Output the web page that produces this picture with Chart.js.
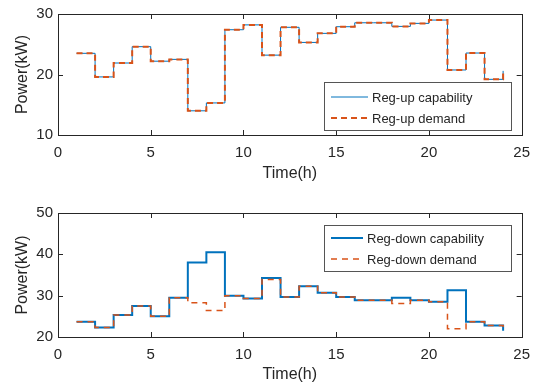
<!DOCTYPE html>
<html>
<head>
<meta charset="utf-8">
<script src="https://cdn.jsdelivr.net/npm/chart.js@4.4.1/dist/chart.umd.min.js"></script>
<style>
    body { margin: 0; background: #fff; }
    .plot { position: absolute; left: 0; width: 539px; }
</style>
</head>
<body>
<div class="plot" style="top:0;height:190px"><canvas id="chart"></canvas></div>
<div class="plot" style="top:190px;height:193px"><canvas id="chart2"></canvas></div>
<script>
const hours = [1, 2, 3, 4, 5, 6, 7, 8, 9, 10, 11, 12, 13, 14, 15, 16, 17, 18, 19, 20, 21, 22, 23, 24];

const regUpCapability = [23.5, 19.6, 21.9, 24.6, 22.2, 22.5, 14.0, 15.3, 27.4, 28.2, 23.2, 27.8,
    25.3, 26.8, 27.9, 28.55, 28.55, 27.95, 28.45, 29.0, 20.75, 23.55, 19.2, 20.6];
const regUpDemand = [23.5, 19.6, 21.9, 24.6, 22.2, 22.5, 14.0, 15.3, 27.4, 28.2, 23.2, 27.8,
    25.3, 26.8, 27.9, 28.55, 28.55, 27.95, 28.45, 29.0, 20.75, 23.55, 19.2, 20.6];

const regDownCapability = [23.7, 22.3, 25.3, 27.5, 25.0, 29.5, 38.0, 40.5, 30.0, 29.3, 34.3, 29.7,
    32.3, 30.7, 29.7, 28.9, 28.9, 29.5, 28.9, 28.5, 31.3, 23.7, 22.8, 21.5];
const regDownDemand = [23.7, 22.3, 25.3, 27.5, 25.0, 29.5, 28.3, 26.4, 30.0, 29.3, 33.9, 29.7,
    32.3, 30.7, 29.7, 28.9, 28.9, 28.1, 28.9, 28.5, 22.0, 23.7, 22.8, 21.5];

const xTicks = [0, 5, 10, 15, 20, 25];
const upTicks = [10, 20, 30];
const downTicks = [20, 30, 40, 50];

const BLUE = '#0072BD';
const ORANGE = '#D95319';
const AXIS = '#262626';

Chart.defaults.font.family = "'Liberation Sans', Arial, sans-serif";
Chart.defaults.font.size = 15;
Chart.defaults.color = AXIS;

function points(values) {
    return hours.map((h, i) => ({ x: h, y: values[i] }));
}

// matlab style box with inward ticks on all four sides
const boxPlugin = {
    id: 'matlabBox',
    afterDatasetsDraw(chart) {
        const { ctx, chartArea: a, scales } = chart;
        const len = 5;
        ctx.save();
        ctx.strokeStyle = AXIS;
        ctx.lineWidth = 1;
        ctx.beginPath();
        scales.x.ticks.forEach(t => {
            const px = Math.round(scales.x.getPixelForValue(t.value)) + 0.5;
            ctx.moveTo(px, a.bottom); ctx.lineTo(px, a.bottom - len);
            ctx.moveTo(px, a.top); ctx.lineTo(px, a.top + len);
        });
        scales.y.ticks.forEach(t => {
            const py = Math.round(scales.y.getPixelForValue(t.value)) + 0.5;
            ctx.moveTo(a.left, py); ctx.lineTo(a.left + len, py);
            ctx.moveTo(a.right, py); ctx.lineTo(a.right - len, py);
        });
        ctx.stroke();
        ctx.strokeRect(Math.round(a.left) + 0.5, Math.round(a.top) + 0.5,
            Math.round(a.right - a.left), Math.round(a.bottom - a.top));
        ctx.restore();
    }
};

const legendPlugin = {
    id: 'boxLegend',
    afterDraw(chart, args, opts) {
        if (!opts.items) return;
        const { ctx } = chart;
        ctx.save();
        ctx.fillStyle = '#fff';
        ctx.fillRect(opts.x, opts.y, opts.w, opts.h);
        ctx.strokeStyle = '#555';
        ctx.lineWidth = 1;
        ctx.strokeRect(opts.x + 0.5, opts.y + 0.5, opts.w, opts.h);
        opts.items.forEach((it, i) => {
            const y = opts.y + opts.rowTop + i * opts.rowGap;
            ctx.beginPath();
            ctx.strokeStyle = it.color;
            ctx.lineWidth = it.width;
            ctx.setLineDash(it.dash || []);
            ctx.moveTo(opts.x + 7, y);
            ctx.lineTo(opts.x + 7 + opts.lineLen, y);
            ctx.stroke();
            ctx.setLineDash([]);
            ctx.fillStyle = AXIS;
            ctx.font = "13px 'Liberation Sans', Arial, sans-serif";
            ctx.textBaseline = 'middle';
            ctx.fillText(it.label, opts.x + opts.textX, y + 1);
        });
        ctx.restore();
    }
};

function makeOptions(yMin, yMax, yTicks, pad, xHeight, titlePad, legend) {
    return {
        responsive: true,
        maintainAspectRatio: false,
        animation: false,
        layout: { padding: { top: pad, right: 15, left: 0, bottom: 0 } },
        plugins: {
            legend: { display: false },
            tooltip: { enabled: false },
            boxLegend: legend
        },
        scales: {
            x: {
                type: 'linear',
                min: 0,
                max: 25,
                afterBuildTicks: s => { s.ticks = xTicks.map(v => ({ value: v })); },
                afterFit: s => { s.height = xHeight; },
                grid: { display: false, drawTicks: false },
                border: { display: false },
                ticks: { padding: 9, color: AXIS, maxRotation: 0 },
                title: {
                    display: true, text: 'Time(h)', color: AXIS,
                    font: { size: 16, lineHeight: 1 }, padding: { bottom: titlePad }
                }
            },
            y: {
                min: yMin,
                max: yMax,
                afterBuildTicks: s => { s.ticks = yTicks.map(v => ({ value: v })); },
                afterFit: s => { s.width = 58; },
                grid: { display: false, drawTicks: false },
                border: { display: false },
                ticks: { padding: 5, color: AXIS },
                title: {
                    display: true, text: 'Power(kW)', color: AXIS,
                    font: { size: 16, lineHeight: 1 }, padding: { top: 15 }
                }
            }
        }
    };
}

document.addEventListener("DOMContentLoaded", () => {
    const chart1 = document.getElementById('chart');
    const chart2 = document.getElementById('chart2');

    new Chart(chart1, {
        type: 'line',
        data: {
            datasets: [{
                label: 'Reg-up capability',
                data: points(regUpCapability),
                borderColor: BLUE,
                borderWidth: 1,
                stepped: true,
                pointRadius: 0,
                order: 2
            }, {
                label: 'Reg-up demand',
                data: points(regUpDemand),
                borderColor: ORANGE,
                borderWidth: 2,
                borderDash: [6, 4],
                stepped: true,
                pointRadius: 0,
                order: 1
            }]
        },
        options: makeOptions(10, 30, upTicks, 11, 55, 8, {
            x: 324, y: 82, w: 187, h: 48, rowTop: 15, rowGap: 21, lineLen: 37, textX: 48,
            items: [
                { label: 'Reg-up capability', color: BLUE, width: 1 },
                { label: 'Reg-up demand', color: ORANGE, width: 2, dash: [6, 4] }
            ]
        }),
        plugins: [boxPlugin, legendPlugin]
    });

    new Chart(chart2, {
        type: 'line',
        data: {
            datasets: [{
                label: 'Reg-down capability',
                data: points(regDownCapability),
                borderColor: BLUE,
                borderWidth: 2,
                stepped: true,
                pointRadius: 0,
                order: 2
            }, {
                label: 'Reg-down demand',
                data: points(regDownDemand),
                borderColor: ORANGE,
                borderWidth: 1.5,
                borderDash: [6, 5],
                stepped: true,
                pointRadius: 0,
                order: 1
            }]
        },
        options: makeOptions(20, 50, downTicks, 23, 46, 0, {
            x: 324, y: 35, w: 187, h: 46, rowTop: 13, rowGap: 21, lineLen: 32, textX: 43,
            items: [
                { label: 'Reg-down capability', color: BLUE, width: 2 },
                { label: 'Reg-down demand', color: ORANGE, width: 1.5, dash: [6, 5] }
            ]
        }),
        plugins: [boxPlugin, legendPlugin]
    });
});
</script>
</body>
</html>
